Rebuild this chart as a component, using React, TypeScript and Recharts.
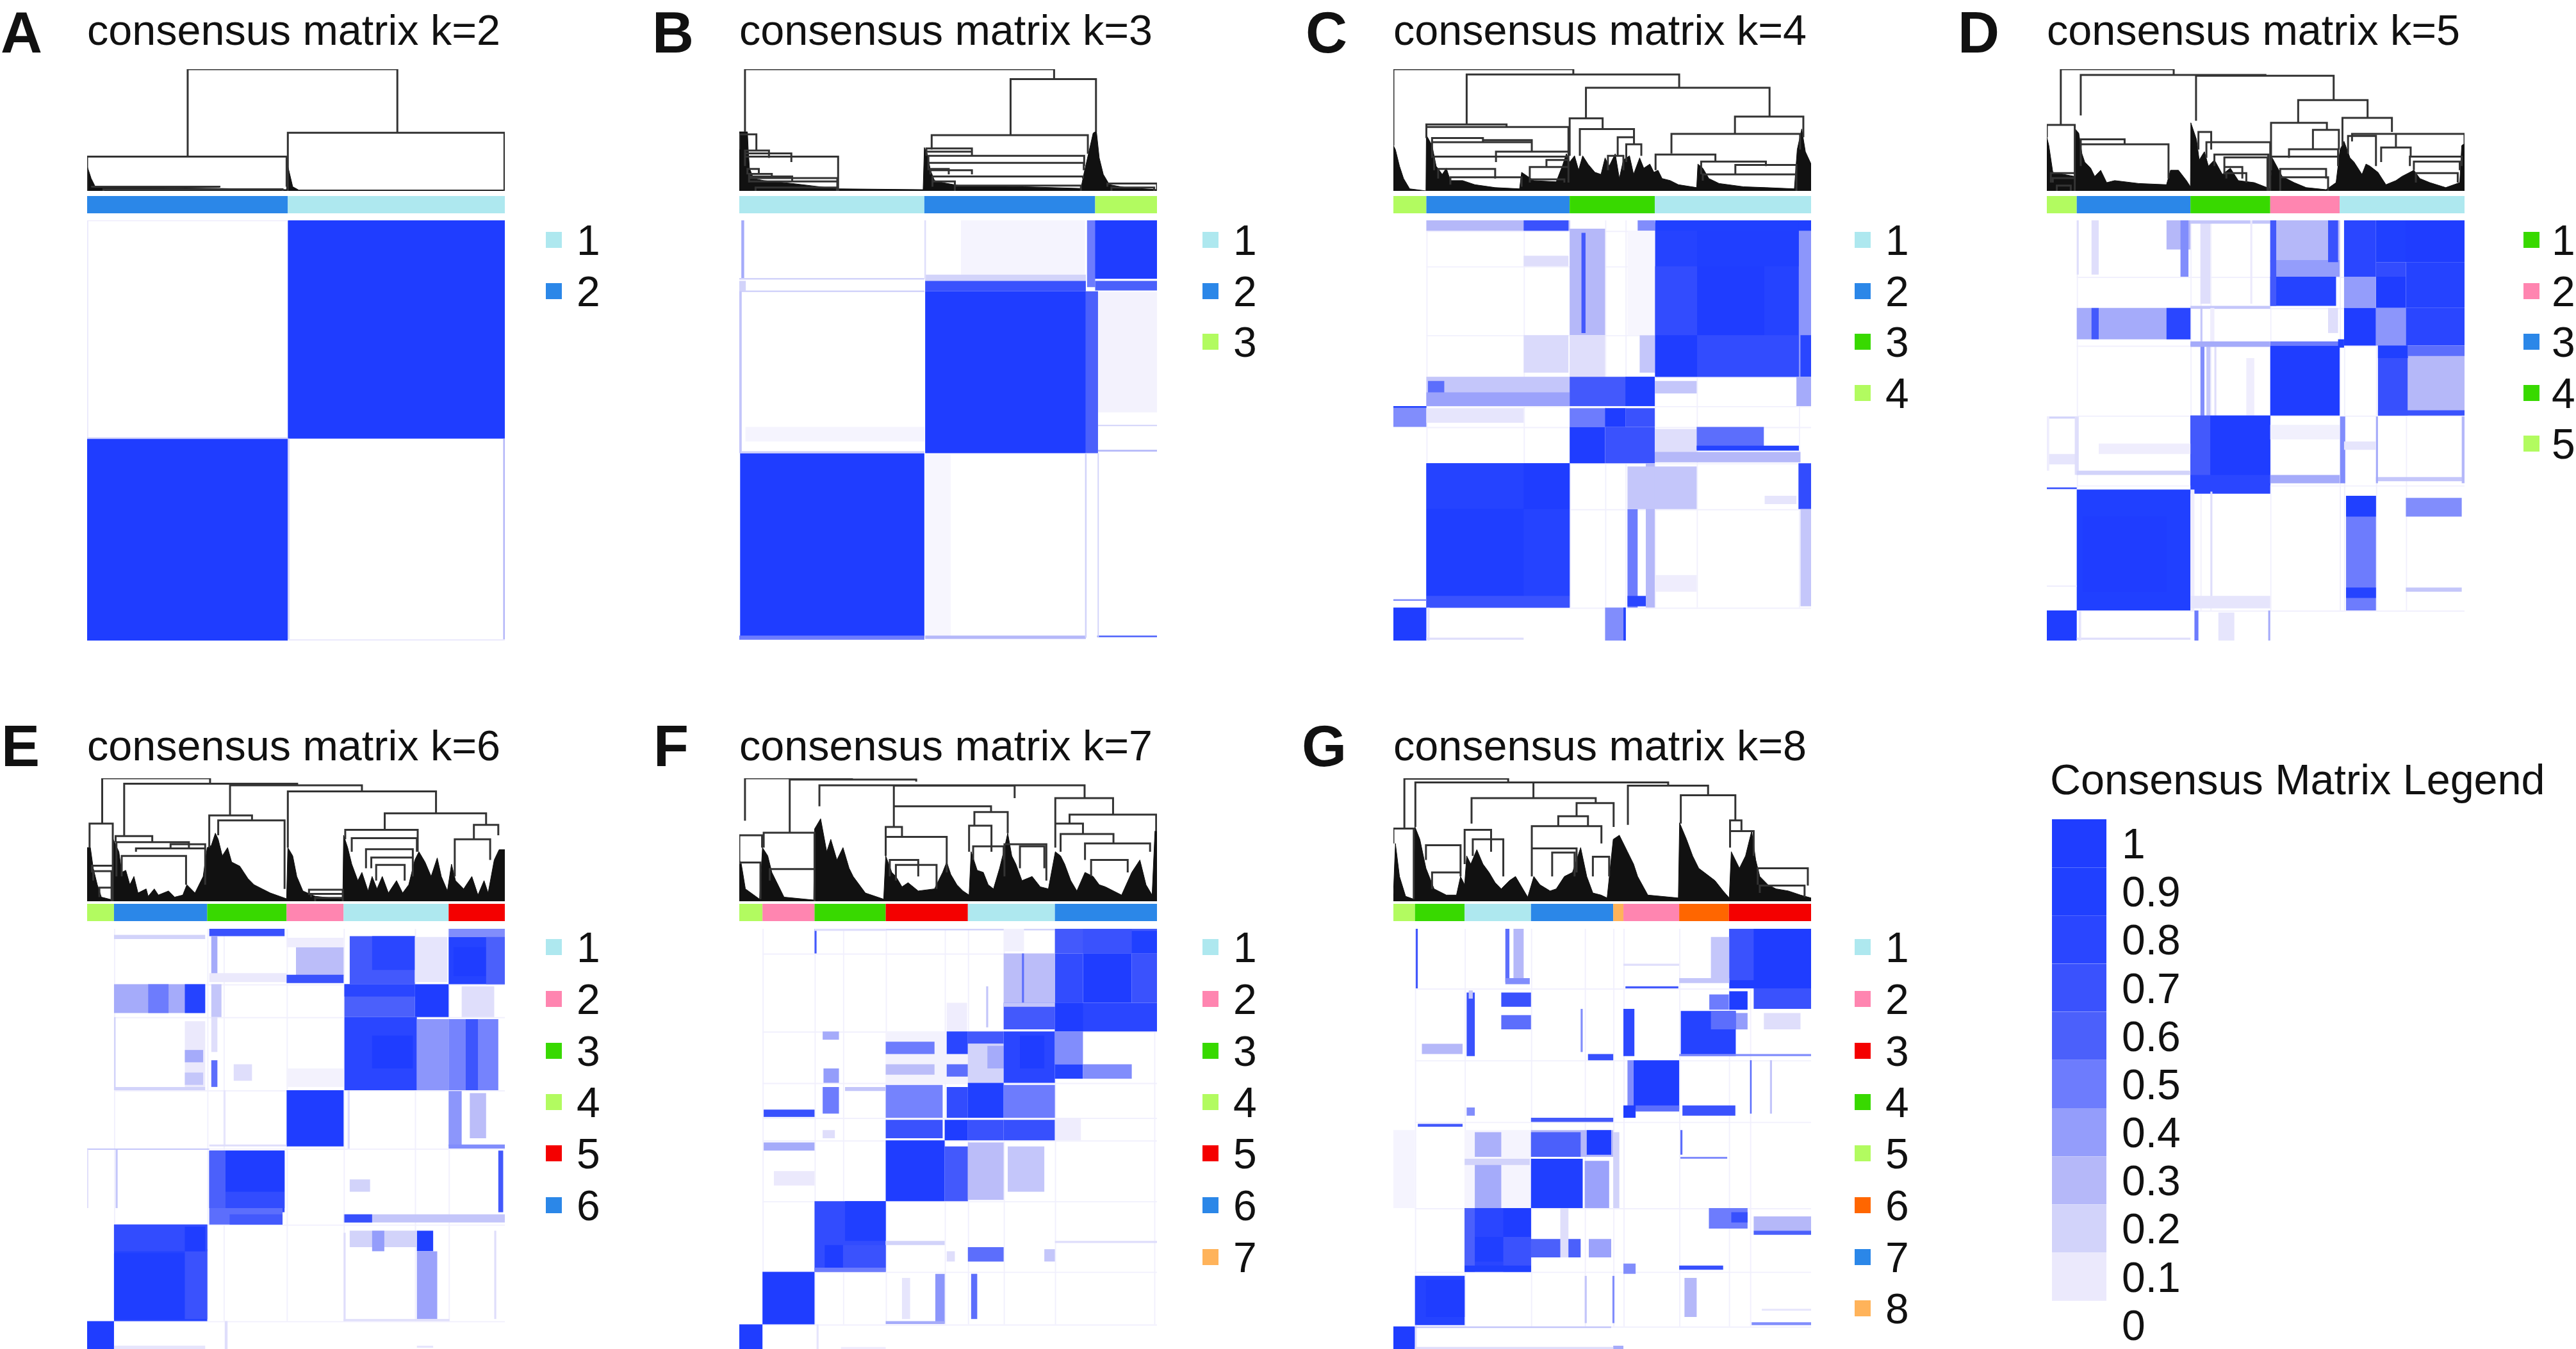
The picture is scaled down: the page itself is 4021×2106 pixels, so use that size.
import { Area, Bar, BarChart, Cell, ComposedChart, Line, ReferenceArea, XAxis, YAxis } from "recharts";

// consensus value -> legend colour (index = value * 10)
const LEVELS = ["#ffffff", "#ebe9fc", "#d2d3fa", "#b5b8f9", "#949dfb", "#6d7cfd", "#4b60fb", "#3a52fd", "#2a46ff", "#2040ff", "#1f3dff"];
const CYAN = "#aee8ef", BLUE = "#2b87e8", GREEN = "#38d900", LIME = "#b2fb60", PINK = "#ff85b0", RED = "#f40000", ORANGE = "#ff6600", PEACH = "#ffb35a";

const legendTicks = ["1", "0.9", "0.8", "0.7", "0.6", "0.5", "0.4", "0.3", "0.2", "0.1", "0"];
const legendLevels = [1, 0.9, 0.8, 0.7, 0.6, 0.5, 0.4, 0.3, 0.2, 0.1, 0];

// faint frame lines at cluster borders: column ranks, row ranks
const colsK4 = [81, 320, 433, 520, 570, 642, 745, 996];
const rowsK4 = [25, 110, 275, 375, 445, 495, 582, 692, 928];
const colsK5 = [75, 360, 385, 410, 560, 734, 745, 825, 900];
const rowsK5 = [135, 210, 300, 468, 635, 935];
const colsK6 = [66, 295, 335, 490, 630, 805, 888];
const rowsK6 = [135, 215, 393, 535, 720, 955];
const colsK7 = [57, 185, 255, 360, 505, 562, 650, 776, 1020];
const rowsK7 = [60, 250, 375, 460, 515, 663, 835, 963];
const colsK8 = [53, 175, 338, 470, 540, 565, 702, 824, 876];
const rowsK8 = [145, 320, 470, 680, 835, 968];

// matrix blocks: [col from, col to, row from, row to, consensus], in sample rank
const blocksK2 = [
  [493, 1026, 0, 523, 1], [0, 493, 523, 1007, 1], [0, 3, 0, 523, 0.1], [0, 493, 0, 2, 0.1], [0, 493, 520, 524, 0.2],
  [493, 497, 523, 1007, 0.2], [1022, 1026, 523, 1007, 0.3], [493, 1026, 1004, 1007, 0.1],
];
const blocksK3 = [
  [545, 850, 0, 130, 0.05], [882, 1027, 172, 460, 0.06], [15, 455, 495, 530, 0.05], [458, 520, 560, 1000, 0.04],
  [870, 1027, 0, 140, 1], [855, 875, 0, 160, 0.5], [457, 852, 130, 145, 0.2], [457, 852, 145, 170, 0.7], [457, 852, 170, 558, 1],
  [852, 882, 170, 558, 0.6], [875, 1027, 145, 168, 0.6], [2, 455, 558, 1000, 1], [0, 455, 995, 1005, 0.5], [457, 852, 995, 1003, 0.3],
  [880, 1027, 995, 999, 0.6], [5, 12, 0, 140, 0.35], [0, 455, 138, 142, 0.2], [0, 455, 168, 172, 0.2], [0, 16, 145, 170, 0.2],
  [0, 6, 170, 558, 0.25], [5, 455, 553, 558, 0.2], [882, 1027, 490, 493, 0.2], [882, 1027, 550, 554, 0.3], [850, 854, 558, 1000, 0.2],
  [881, 884, 558, 1000, 0.2], [455, 459, 0, 140, 0.15],
];
const blocksK4 = [
  [81, 433, 0, 25, 0.3], [320, 430, 0, 25, 0.7], [433, 520, 20, 275, 0.3], [462, 472, 30, 270, 0.65], [320, 430, 85, 110, 0.15],
  [320, 430, 275, 365, 0.17], [433, 520, 275, 375, 0.15], [600, 642, 0, 25, 0.45], [605, 642, 275, 365, 0.25], [575, 642, 25, 275, 0.04],
  [643, 996, 5, 375, 0.85], [746, 911, 110, 275, 1], [643, 746, 275, 375, 1], [746, 996, 0, 110, 0.95], [643, 746, 110, 275, 0.75], [746, 996, 275, 375, 0.75],
  [996, 1026, 0, 375, 0.42], [1000, 1026, 275, 375, 0.8], [996, 1026, 0, 25, 0.9], [643, 996, 0, 25, 0.9],
  [81, 433, 375, 445, 0.25], [85, 125, 385, 440, 0.55], [81, 433, 412, 445, 0.38], [433, 642, 375, 445, 0.65], [570, 642, 375, 445, 0.95], [642, 745, 385, 415, 0.25], [990, 1026, 375, 445, 0.35],
  [0, 81, 445, 495, 0.45], [0, 81, 445, 449, 0.9], [433, 570, 450, 495, 0.5], [520, 570, 450, 495, 1], [570, 642, 450, 495, 0.7], [81, 320, 450, 485, 0.12],
  [433, 520, 495, 582, 1], [520, 642, 495, 582, 0.7], [642, 745, 500, 560, 0.15], [745, 910, 495, 550, 0.55], [745, 996, 540, 552, 0.85], [642, 1000, 555, 580, 0.3],
  [81, 433, 582, 928, 0.9], [320, 433, 582, 692, 1], [81, 320, 582, 692, 0.85], [81, 320, 692, 900, 0.97], [320, 433, 692, 900, 0.85], [81, 433, 900, 928, 0.7],
  [575, 600, 692, 928, 0.5], [620, 642, 582, 928, 0.3], [575, 642, 590, 692, 0.25], [642, 745, 590, 692, 0.25], [995, 1026, 582, 692, 0.75], [1000, 1026, 692, 925, 0.25],
  [912, 990, 660, 680, 0.12], [575, 620, 900, 925, 0.8], [642, 745, 850, 890, 0.08],
  [0, 81, 928, 1007, 1], [520, 570, 928, 1007, 0.45], [565, 571, 928, 1007, 0.85], [83, 89, 928, 1007, 0.12], [81, 320, 1000, 1005, 0.15], [0, 81, 908, 912, 0.45],
];
const blocksK5 = [
  [300, 360, 0, 70, 0.3], [335, 355, 0, 135, 0.45], [112, 130, 0, 130, 0.15], [75, 80, 0, 130, 0.15],
  [385, 410, 0, 200, 0.15], [360, 560, 0, 8, 0.25], [360, 560, 205, 212, 0.25], [510, 515, 0, 200, 0.1],
  [745, 825, 0, 135, 0.8], [825, 1047, 0, 100, 0.9], [900, 1047, 0, 100, 1], [825, 900, 100, 135, 0.75], [825, 900, 135, 210, 1], [900, 1047, 100, 210, 0.85], [745, 825, 135, 210, 0.4],
  [560, 734, 0, 100, 0.3], [560, 734, 95, 135, 0.4], [560, 725, 135, 205, 0.85], [705, 730, 0, 100, 0.7], [560, 575, 0, 205, 0.65],
  [75, 360, 210, 285, 0.35], [300, 360, 210, 285, 0.8], [112, 130, 210, 285, 0.65], [745, 825, 210, 300, 1], [825, 900, 210, 300, 0.42], [900, 1047, 210, 300, 0.8],
  [560, 734, 290, 300, 0.5], [705, 730, 210, 270, 0.15], [360, 560, 290, 300, 0.35], [410, 420, 210, 290, 0.08], [385, 390, 210, 290, 0.25], [730, 745, 285, 305, 0.9],
  [560, 734, 300, 468, 1], [830, 905, 300, 468, 0.72], [905, 1047, 300, 468, 0.3], [830, 905, 300, 330, 0.9], [905, 1047, 300, 325, 0.55], [830, 1047, 455, 468, 0.7],
  [385, 395, 300, 468, 0.45], [400, 410, 300, 468, 0.25], [500, 520, 330, 468, 0.08], [420, 425, 300, 468, 0.15], [360, 560, 295, 303, 0.35],
  [360, 560, 468, 635, 0.95], [360, 410, 468, 635, 0.65], [410, 560, 468, 610, 1], [360, 560, 610, 655, 0.8], [0, 75, 470, 475, 0.2], [0, 75, 560, 585, 0.12], [0, 6, 470, 600, 0.08],
  [70, 80, 470, 610, 0.15], [75, 360, 600, 610, 0.2], [130, 360, 535, 560, 0.08], [560, 734, 490, 525, 0.07], [560, 734, 610, 630, 0.35], [735, 748, 470, 630, 0.45],
  [825, 1047, 615, 625, 0.25], [825, 830, 470, 630, 0.35], [1040, 1047, 470, 630, 0.3], [745, 825, 530, 550, 0.12],
  [75, 360, 645, 935, 0.9], [90, 300, 710, 890, 1], [360, 370, 645, 935, 0.08], [410, 415, 650, 920, 0.15], [750, 825, 660, 935, 0.5], [750, 825, 660, 710, 0.9], [750, 825, 880, 905, 0.85],
  [900, 1040, 665, 710, 0.45], [900, 1040, 880, 890, 0.25], [0, 75, 640, 644, 0.75], [0, 75, 875, 878, 0.08],
  [0, 75, 935, 1007, 1], [75, 360, 1000, 1005, 0.15], [370, 380, 935, 1007, 0.5], [430, 470, 940, 1007, 0.12], [555, 560, 935, 1007, 0.35], [80, 86, 935, 1007, 0.12], [360, 560, 900, 930, 0.12],
];
const blocksK6 = [
  [300, 485, 0, 18, 0.7], [305, 320, 18, 110, 0.35], [66, 290, 15, 25, 0.2], [300, 490, 108, 130, 0.1],
  [513, 630, 45, 115, 0.28], [490, 630, 112, 132, 0.7], [490, 630, 22, 45, 0.08],
  [645, 805, 18, 135, 0.65], [700, 805, 18, 100, 0.8], [805, 885, 20, 130, 0.12], [888, 1026, 0, 20, 0.45], [888, 1026, 20, 135, 0.85], [900, 980, 45, 115, 1], [980, 1026, 20, 135, 0.6],
  [66, 290, 135, 205, 0.35], [240, 290, 135, 205, 0.85], [150, 200, 135, 205, 0.5], [305, 330, 135, 215, 0.25], [632, 805, 135, 215, 0.6], [632, 805, 135, 165, 0.8], [805, 888, 135, 215, 1], [920, 1000, 140, 215, 0.15],
  [632, 810, 215, 393, 0.8], [700, 800, 260, 340, 1], [810, 888, 220, 393, 0.42], [888, 1010, 220, 393, 0.48], [930, 960, 220, 393, 0.68], [240, 290, 225, 385, 0.1], [240, 285, 295, 325, 0.35], [240, 285, 350, 380, 0.25],
  [305, 320, 320, 385, 0.55], [360, 405, 330, 370, 0.15], [305, 320, 215, 300, 0.15], [66, 290, 385, 393, 0.2], [66, 70, 215, 393, 0.2], [490, 630, 340, 385, 0.06],
  [490, 630, 393, 530, 1], [888, 920, 395, 530, 0.42], [940, 980, 400, 510, 0.28], [335, 340, 393, 530, 0.12], [640, 645, 393, 535, 0.15], [888, 1026, 525, 535, 0.45], [300, 490, 525, 530, 0.15],
  [300, 485, 540, 680, 0.9], [300, 340, 540, 680, 0.6], [340, 485, 540, 640, 1], [340, 485, 640, 690, 0.75], [0, 300, 535, 538, 0.25], [70, 75, 535, 680, 0.25], [645, 695, 610, 640, 0.2], [1010, 1022, 540, 690, 0.65],
  [630, 1026, 695, 715, 0.25], [632, 700, 695, 715, 0.72], [300, 480, 680, 720, 0.55], [350, 480, 695, 720, 0.65],
  [66, 295, 720, 955, 0.85], [66, 240, 790, 950, 0.97], [240, 295, 780, 950, 0.7], [66, 295, 720, 785, 0.75], [240, 290, 725, 785, 1], [810, 850, 735, 785, 0.88], [810, 860, 785, 950, 0.38],
  [645, 810, 735, 775, 0.2], [700, 730, 735, 785, 0.4], [630, 635, 740, 955, 0.15], [1000, 1005, 735, 950, 0.15], [630, 890, 950, 955, 0.15],
  [0, 66, 955, 1023, 1], [66, 290, 1015, 1023, 0.12], [338, 345, 955, 1023, 0.15], [810, 850, 1015, 1020, 0.12], [0, 3, 537, 680, 0.15],
];
const blocksK7 = [
  [185, 190, 0, 60, 0.65], [185, 360, 0, 5, 0.15], [360, 776, 0, 4, 0.2], [510, 560, 180, 250, 0.08], [607, 612, 140, 240, 0.25],
  [776, 1027, 0, 60, 0.65], [845, 965, 0, 60, 0.7], [965, 1027, 5, 60, 0.9], [776, 845, 60, 180, 0.75], [845, 965, 60, 180, 1], [965, 1027, 60, 180, 0.7], [776, 1027, 180, 250, 0.8], [776, 845, 180, 250, 1],
  [650, 776, 60, 180, 0.28], [695, 700, 60, 180, 0.55], [650, 776, 180, 245, 0.65], [650, 776, 180, 190, 0.25], [650, 700, 0, 55, 0.07],
  [360, 562, 250, 375, 0.06], [360, 480, 275, 305, 0.5], [510, 562, 250, 305, 0.8], [510, 562, 330, 360, 0.55], [360, 480, 330, 355, 0.28], [562, 650, 250, 280, 0.65], [562, 650, 280, 375, 0.2], [610, 650, 285, 340, 0.35], [650, 776, 250, 375, 0.8], [690, 750, 260, 340, 1],
  [776, 845, 250, 330, 0.45], [776, 845, 330, 365, 0.85], [845, 965, 330, 365, 0.45], [205, 245, 250, 270, 0.35], [207, 245, 340, 375, 0.4],
  [562, 650, 375, 460, 0.9], [650, 776, 380, 460, 0.5], [510, 562, 385, 460, 0.75], [360, 500, 380, 460, 0.48], [205, 245, 385, 450, 0.5], [60, 185, 440, 458, 0.72], [260, 360, 385, 395, 0.25],
  [360, 500, 465, 510, 0.7], [505, 562, 465, 515, 1], [562, 650, 465, 515, 0.7], [650, 776, 465, 515, 0.72], [205, 235, 490, 510, 0.15], [776, 840, 460, 515, 0.08],
  [360, 505, 515, 663, 1], [505, 562, 530, 663, 0.65], [562, 650, 520, 660, 0.28], [660, 750, 530, 640, 0.25], [60, 185, 520, 540, 0.35], [85, 185, 590, 625, 0.1],
  [185, 360, 663, 835, 0.75], [260, 360, 663, 760, 0.95], [210, 255, 770, 825, 1], [255, 360, 770, 825, 0.7], [360, 505, 760, 770, 0.2], [510, 530, 785, 810, 0.15], [562, 650, 775, 810, 0.55], [750, 776, 780, 810, 0.25], [776, 1027, 760, 765, 0.15], [185, 360, 825, 835, 0.5],
  [57, 185, 835, 963, 1], [400, 420, 850, 950, 0.12], [482, 505, 840, 960, 0.42], [570, 585, 840, 950, 0.55], [360, 505, 955, 962, 0.35],
  [0, 57, 963, 1023, 1], [190, 195, 963, 1023, 0.12], [250, 360, 1018, 1023, 0.08],
];
const blocksK8 = [
  [825, 1026, 0, 145, 1], [825, 885, 0, 125, 0.7], [780, 825, 20, 130, 0.25], [702, 825, 120, 132, 0.25], [885, 1026, 145, 195, 0.7], [825, 870, 152, 197, 1], [825, 870, 205, 245, 0.4], [910, 1000, 205, 245, 0.15], [776, 824, 160, 197, 0.5],
  [706, 841, 200, 310, 0.85], [780, 841, 200, 245, 0.55], [265, 338, 155, 190, 0.7], [265, 338, 210, 245, 0.55], [275, 285, 0, 130, 0.55], [295, 320, 0, 130, 0.3], [275, 335, 120, 135, 0.45], [55, 60, 0, 145, 0.65], [70, 170, 280, 305, 0.3], [180, 200, 155, 310, 0.7], [185, 195, 150, 170, 0.25],
  [565, 592, 195, 310, 0.78], [570, 700, 140, 145, 0.65], [565, 702, 85, 90, 0.15], [460, 465, 195, 300, 0.45], [478, 540, 305, 320, 0.72], [702, 1026, 305, 310, 0.45],
  [590, 702, 320, 440, 1], [575, 590, 320, 440, 0.45], [565, 595, 430, 460, 1], [595, 702, 430, 445, 0.55], [710, 840, 430, 455, 0.7], [180, 200, 435, 455, 0.45], [876, 880, 320, 450, 0.55], [925, 930, 320, 450, 0.25],
  [175, 338, 490, 680, 0.05], [338, 540, 490, 555, 0.3], [475, 535, 490, 550, 1], [338, 460, 495, 555, 0.6], [200, 265, 495, 555, 0.33], [338, 465, 560, 680, 0.95], [470, 530, 565, 680, 0.38], [200, 265, 570, 680, 0.35], [175, 335, 560, 575, 0.2], [540, 555, 495, 680, 0.2], [60, 170, 475, 482, 0.65], [0, 53, 490, 680, 0.05], [338, 540, 460, 470, 0.65], [705, 820, 555, 560, 0.45], [705, 710, 490, 550, 0.55],
  [175, 338, 680, 835, 0.8], [270, 338, 680, 760, 1], [200, 270, 750, 810, 0.95], [175, 200, 680, 835, 0.6], [270, 338, 750, 835, 0.7], [338, 460, 755, 800, 0.6], [480, 535, 755, 800, 0.38], [410, 430, 680, 800, 0.15], [175, 338, 820, 835, 0.9],
  [775, 870, 680, 730, 0.5], [830, 870, 690, 715, 0.72], [885, 1026, 700, 735, 0.3], [885, 1026, 735, 745, 0.6], [702, 810, 820, 830, 0.72], [565, 595, 815, 840, 0.45],
  [53, 175, 845, 965, 0.85], [80, 175, 855, 945, 1], [715, 745, 850, 945, 0.3], [905, 1026, 925, 930, 0.12], [880, 1026, 958, 965, 0.45], [538, 543, 845, 960, 0.45], [470, 475, 845, 960, 0.25],
  [0, 53, 968, 1023, 1], [53, 58, 965, 1023, 0.12], [540, 565, 1015, 1023, 0.35], [53, 535, 968, 972, 0.25], [53, 540, 1018, 1023, 0.15],
];

// dendrogram joins: [left rank, right rank, height, left child height, right child height]
const joinsK2 = [[247, 762, 295, 83, 141], [0, 490, 83, 0, 10], [493, 1025, 141, 0, 0], [12, 325, 10, 8, 8], [40, 480, 4, 0, 0]];
const joinsK3 = [
  [14, 774, 295, 143, 271], [667, 877, 271, 135, 143], [473, 857, 135, 100, 90], [0, 42, 137, 100, 100], [14, 73, 98, 80, 80], [14, 128, 91, 70, 70], [14, 243, 83, 60, 0], [20, 48, 53, 40, 40],
  [24, 80, 41, 30, 30], [24, 130, 35, 30, 25], [24, 241, 31, 25, 0], [24, 241, 23, 20, 0], [40, 240, 8, 0, 0], [460, 572, 103, 90, 85], [460, 572, 95, 85, 85], [465, 848, 85, 50, 60], [465, 847, 68, 50, 50],
  [470, 515, 53, 40, 40], [470, 572, 50, 40, 40], [475, 845, 35, 20, 30], [475, 530, 23, 10, 10], [530, 840, 13, 0, 0], [905, 1027, 18, 10, 0], [915, 1020, 8, 0, 0],
];
const joinsK4 = [
  [0, 442, 295, 110, 282], [180, 702, 282, 161, 250], [473, 924, 250, 176, 180], [433, 514, 176, 85, 150], [458, 591, 150, 85, 130], [551, 591, 130, 85, 113], [572, 609, 113, 70, 85], [527, 565, 85, 50, 50],
  [839, 1007, 180, 138, 130], [683, 999, 138, 91, 100], [644, 791, 88, 50, 70], [756, 915, 71, 40, 60], [840, 990, 63, 40, 0], [760, 990, 40, 25, 0],
  [81, 278, 161, 155, 155], [81, 430, 155, 128, 85], [95, 220, 128, 118, 118], [95, 340, 118, 80, 95], [220, 340, 123, 118, 118], [100, 430, 83, 50, 20], [252, 430, 95, 70, 70], [376, 430, 75, 60, 60], [335, 430, 58, 30, 30], [110, 250, 53, 30, 30], [140, 315, 33, 15, 10], [335, 420, 28, 20, 20],
];
const joinsK5 = [
  [35, 318, 295, 160, 281], [85, 548, 281, 183, 279], [374, 719, 279, 170, 220], [630, 804, 220, 165, 177], [562, 702, 165, 70, 148], [667, 732, 148, 103, 100], [607, 730, 101, 80, 80], [562, 730, 83, 50, 60], [585, 700, 53, 30, 30], [585, 705, 33, 0, 0],
  [741, 865, 177, 110, 143], [765, 1047, 138, 120, 115], [875, 1047, 138, 105, 115], [755, 825, 133, 90, 60], [838, 912, 105, 70, 83], [910, 1040, 83, 60, 60], [920, 1035, 71, 50, 50], [925, 1030, 43, 20, 20],
  [85, 195, 125, 113, 113], [85, 305, 113, 60, 30], [0, 70, 160, 130, 0], [10, 70, 43, 20, 0], [15, 70, 31, 20, 0], [25, 60, 13, 0, 0], [380, 412, 143, 100, 100], [400, 560, 118, 80, 0], [420, 555, 88, 60, 0], [445, 553, 81, 40, 0], [445, 490, 58, 40, 30], [450, 500, 43, 30, 20],
];
const joinsK6 = [
  [37, 302, 298, 188, 285], [91, 516, 285, 160, 281], [351, 675, 281, 208, 266], [493, 857, 266, 130, 213], [731, 980, 213, 173, 185], [634, 812, 173, 150, 120], [950, 1010, 185, 150, 160], [903, 990, 150, 60, 100],
  [300, 405, 208, 130, 196], [322, 485, 196, 160, 30], [70, 160, 158, 143, 143], [72, 250, 143, 60, 128], [120, 290, 128, 120, 40], [205, 290, 138, 128, 128], [85, 243, 110, 60, 40], [650, 810, 153, 120, 120], [685, 800, 126, 80, 100], [698, 800, 106, 80, 60], [710, 780, 88, 50, 50],
  [6, 63, 188, 130, 0], [12, 63, 86, 70, 0], [15, 60, 73, 50, 0], [30, 60, 33, 10, 0], [545, 628, 28, 15, 0], [550, 628, 18, 10, 0], [560, 628, 8, 0, 0],
];
const joinsK7 = [
  [14, 277, 298, 195, 293], [124, 435, 295, 168, 290], [197, 849, 281, 230, 250], [380, 677, 280, 230, 250], [380, 619, 230, 180, 216], [578, 660, 216, 183, 165], [777, 919, 250, 188, 210], [812, 1025, 210, 188, 170], [777, 845, 188, 130, 163], [790, 920, 163, 120, 140],
  [850, 1010, 140, 100, 120], [865, 955, 100, 60, 70], [360, 510, 156, 110, 70], [360, 400, 180, 156, 156], [370, 440, 100, 60, 60], [385, 485, 88, 50, 30], [0, 56, 160, 90, 130], [3, 52, 94, 90, 5], [60, 185, 166, 130, 78], [75, 185, 78, 50, 0], [652, 755, 138, 60, 50], [690, 750, 133, 80, 80], [565, 620, 183, 120, 120], [575, 650, 133, 100, 100],
];
const joinsK8 = [
  [27, 282, 297, 176, 288], [54, 675, 288, 180, 280], [344, 344, 288, 288, 250], [192, 497, 250, 188, 238], [450, 541, 238, 206, 180], [340, 511, 182, 120, 140], [405, 478, 206, 182, 182], [576, 773, 280, 185, 257], [706, 840, 257, 188, 196], [827, 855, 196, 170, 170], [827, 885, 170, 130, 110], [895, 1018, 80, 40, 38], [900, 1010, 38, 20, 10],
  [0, 50, 176, 140, 5], [80, 165, 136, 100, 70], [95, 165, 70, 30, 60], [175, 240, 173, 90, 120], [195, 270, 150, 110, 60], [340, 450, 128, 60, 70], [390, 445, 118, 60, 60], [490, 530, 108, 60, 60],
];

// dendrogram outline where the leaves merge into a solid mass: [rank, height]
const massK2 = [[0, 0], [0, 60], [10, 30], [20, 10], [40, 8], [160, 8], [320, 6], [490, 3], [493, 60], [505, 10], [520, 2], [1025, 2], [1025, 0]];
const massK3 = [[0, 0], [0, 143], [20, 143], [22, 100], [25, 55], [35, 30], [60, 25], [130, 18], [240, 5], [452, 3], [455, 105], [462, 90], [470, 50], [480, 25], [500, 20], [540, 13], [700, 10], [840, 6], [847, 40], [870, 140], [878, 145], [885, 80], [895, 40], [910, 15], [950, 8], [1027, 3], [1027, 0]];
const massK4 = [[0, 0], [0, 110], [5, 100], [15, 60], [25, 30], [40, 5], [80, 0], [81, 135], [95, 110], [105, 60], [120, 40], [130, 55], [140, 25], [170, 25], [200, 15], [250, 8], [310, 5], [315, 45], [330, 35], [345, 25], [400, 22], [415, 60], [425, 90], [433, 70], [445, 85], [455, 50], [465, 85], [478, 65], [495, 45], [510, 40], [520, 80], [530, 60], [545, 90], [555, 30], [565, 75], [580, 85], [590, 40], [605, 80], [615, 55], [630, 65], [640, 45], [650, 50], [660, 30], [680, 25], [700, 15], [745, 8], [748, 65], [760, 55], [775, 30], [800, 18], [860, 10], [915, 8], [985, 5], [992, 100], [1003, 150], [1012, 95], [1026, 65], [1026, 0]];
const massK5 = [[0, 0], [0, 130], [5, 110], [15, 45], [70, 35], [71, 150], [80, 140], [88, 90], [95, 70], [110, 55], [120, 35], [135, 50], [150, 20], [170, 25], [230, 18], [300, 15], [310, 50], [330, 50], [350, 25], [360, 10], [361, 165], [375, 125], [382, 75], [395, 95], [405, 60], [420, 75], [440, 40], [460, 55], [480, 25], [520, 20], [560, 5], [565, 80], [590, 35], [620, 20], [650, 8], [700, 3], [725, 20], [735, 100], [745, 120], [760, 80], [770, 70], [790, 40], [800, 65], [810, 60], [830, 45], [850, 15], [875, 25], [890, 35], [920, 50], [935, 30], [960, 20], [1000, 8], [1035, 20], [1040, 110], [1047, 115], [1047, 0]];
const massK6 = [[0, 0], [0, 130], [8, 130], [15, 80], [25, 40], [35, 10], [63, 3], [64, 150], [78, 120], [85, 70], [95, 75], [105, 40], [115, 60], [125, 20], [145, 30], [150, 12], [165, 30], [175, 15], [200, 25], [215, 10], [235, 15], [245, 40], [265, 20], [285, 60], [295, 130], [305, 135], [315, 165], [322, 150], [332, 110], [345, 130], [355, 95], [375, 85], [385, 70], [395, 55], [410, 40], [430, 30], [450, 20], [490, 6], [493, 130], [505, 110], [515, 60], [530, 25], [560, 12], [628, 5], [630, 160], [640, 130], [650, 90], [665, 50], [675, 70], [690, 25], [700, 60], [712, 30], [725, 60], [740, 20], [760, 50], [775, 20], [790, 40], [805, 100], [815, 120], [830, 95], [845, 60], [860, 105], [870, 60], [885, 25], [895, 90], [905, 50], [925, 30], [945, 60], [960, 15], [975, 50], [985, 20], [1000, 100], [1012, 125], [1026, 125], [1026, 0]];
const massK7 = [[0, 0], [0, 100], [5, 90], [15, 30], [50, 5], [57, 130], [70, 110], [80, 70], [90, 50], [110, 10], [183, 3], [185, 175], [200, 200], [215, 120], [225, 150], [240, 100], [255, 130], [270, 80], [280, 60], [310, 20], [355, 5], [360, 110], [375, 70], [385, 60], [400, 35], [415, 45], [440, 25], [480, 30], [500, 70], [510, 95], [520, 65], [535, 40], [550, 25], [565, 15], [570, 120], [585, 75], [600, 70], [612, 40], [625, 30], [640, 80], [650, 120], [660, 165], [670, 110], [680, 90], [695, 50], [720, 60], [740, 35], [760, 30], [777, 120], [790, 110], [800, 90], [815, 50], [830, 25], [850, 70], [870, 60], [885, 40], [900, 35], [920, 25], [940, 15], [965, 70], [985, 100], [1000, 40], [1015, 15], [1022, 170], [1027, 170], [1027, 0]];
const massK8 = [[0, 0], [0, 15], [5, 140], [15, 60], [30, 12], [50, 5], [53, 180], [65, 150], [80, 80], [100, 30], [130, 15], [155, 15], [165, 60], [175, 40], [180, 110], [190, 90], [205, 125], [220, 90], [235, 70], [250, 45], [265, 30], [285, 50], [300, 60], [330, 10], [345, 60], [360, 40], [385, 25], [400, 30], [420, 60], [440, 70], [460, 130], [475, 60], [490, 20], [510, 15], [525, 8], [540, 150], [555, 160], [575, 120], [590, 90], [600, 60], [625, 15], [700, 8], [703, 190], [720, 150], [735, 110], [750, 80], [770, 65], [790, 50], [810, 25], [825, 8], [830, 120], [850, 80], [865, 110], [880, 170], [890, 100], [900, 60], [920, 40], [940, 30], [970, 25], [1000, 15], [1026, 8], [1026, 0]];

// cluster bar under the dendrogram: sample counts and colours
const stripK2 = [[493, BLUE], [533, CYAN]];
const stripK3 = [[455, CYAN], [420, BLUE], [152, LIME]];
const stripK4 = [[81, LIME], [352, BLUE], [209, GREEN], [384, CYAN]];
const stripK5 = [[75, LIME], [285, BLUE], [200, GREEN], [174, PINK], [313, CYAN]];
const stripK6 = [[66, LIME], [229, BLUE], [195, GREEN], [140, PINK], [258, CYAN], [138, RED]];
const stripK7 = [[57, LIME], [128, PINK], [175, GREEN], [202, RED], [214, CYAN], [251, BLUE]];
const stripK8 = [[53, LIME], [122, GREEN], [163, CYAN], [202, BLUE], [25, PEACH], [137, PINK], [122, ORANGE], [202, RED]];

const legendK2 = [CYAN, BLUE];
const legendK3 = [CYAN, BLUE, LIME];
const legendK4 = [CYAN, BLUE, GREEN, LIME];
const legendK5 = [GREEN, PINK, BLUE, GREEN, LIME];
const legendK6 = [CYAN, PINK, GREEN, LIME, RED, BLUE];
const legendK7 = [CYAN, PINK, GREEN, LIME, RED, BLUE, PEACH];
const legendK8 = [CYAN, PINK, RED, GREEN, LIME, ORANGE, BLUE, PEACH];

const FONT = "'Liberation Sans', Arial, sans-serif";
const PANEL_W = 652;
const rows = [
  { titleTop: 14, letterTop: 6, dendTop: 108, dendH: 190, stripTop: 306, stripH: 27, matTop: 344, matH: 656, legendY: [374, 454, 533, 613, 692] },
  { titleTop: 1131, letterTop: 1120, dendTop: 1215, dendH: 192, stripTop: 1411, stripH: 27, matTop: 1450, matH: 656, legendY: [1478, 1559, 1640, 1720, 1800, 1881, 1962, 2042] },
];
const panels = [
  { letter: "A", k: 2, row: 0, left: 136, letterLeft: 1, legendLeft: 852, digitGap: 48, w: 1026, h: 1007, dh: 295, blocks: blocksK2, joins: joinsK2, mass: massK2, strip: stripK2, legend: legendK2, cols: [], rws: [] },
  { letter: "B", k: 3, row: 0, left: 1154, letterLeft: 1018, legendLeft: 1877, digitGap: 48, w: 1027, h: 1007, dh: 295, blocks: blocksK3, joins: joinsK3, mass: massK3, strip: stripK3, legend: legendK3, cols: [], rws: [] },
  { letter: "C", k: 4, row: 0, left: 2175, letterLeft: 2038, legendLeft: 2895, digitGap: 48, w: 1026, h: 1007, dh: 295, blocks: blocksK4, joins: joinsK4, mass: massK4, strip: stripK4, legend: legendK4, cols: colsK4, rws: rowsK4 },
  { letter: "D", k: 5, row: 0, left: 3195, letterLeft: 3056, legendLeft: 3939, digitGap: 44, w: 1047, h: 1007, dh: 295, blocks: blocksK5, joins: joinsK5, mass: massK5, strip: stripK5, legend: legendK5, cols: colsK5, rws: rowsK5 },
  { letter: "E", k: 6, row: 1, left: 136, letterLeft: 2, legendLeft: 852, digitGap: 48, w: 1026, h: 1023, dh: 298, blocks: blocksK6, joins: joinsK6, mass: massK6, strip: stripK6, legend: legendK6, cols: colsK6, rws: rowsK6 },
  { letter: "F", k: 7, row: 1, left: 1154, letterLeft: 1020, legendLeft: 1877, digitGap: 48, w: 1027, h: 1023, dh: 298, blocks: blocksK7, joins: joinsK7, mass: massK7, strip: stripK7, legend: legendK7, cols: colsK7, rws: rowsK7 },
  { letter: "G", k: 8, row: 1, left: 2175, letterLeft: 2032, legendLeft: 2895, digitGap: 48, w: 1026, h: 1023, dh: 298, blocks: blocksK8, joins: joinsK8, mass: massK8, strip: stripK8, legend: legendK8, cols: colsK8, rws: rowsK8 },
];

// blend between the two nearest legend steps
function levelColor(v: number) {
  const t = Math.min(10, Math.max(0, v * 10));
  const i = Math.min(9, Math.floor(t));
  const hex = (s: string, a: number) => parseInt(s.slice(a, a + 2), 16);
  const mix = (a: number) => Math.round(hex(LEVELS[i], a) + (hex(LEVELS[i + 1], a) - hex(LEVELS[i], a)) * (t - i));
  return `rgb(${mix(1)},${mix(3)},${mix(5)})`;
}

function joinPoints(joins: number[][]) {
  const pts: { x: number; y: number | null }[] = [];
  joins.forEach(([l, r, h, hl, hr]) => {
    pts.push({ x: l, y: hl }, { x: l, y: h }, { x: r, y: h }, { x: r, y: hr }, { x: r, y: null });
  });
  return pts;
}

function Text({ left, top, size, bold, children }: any) {
  return (
    <div style={{ position: "absolute", left, top, fontSize: size, lineHeight: `${size}px`, fontFamily: FONT, fontWeight: bold ? 700 : 400, color: "#111", whiteSpace: "nowrap" }}>
      {children}
    </div>
  );
}

function Box({ left, top, width, height, children }: any) {
  return <div style={{ position: "absolute", left, top, width, height }}>{children}</div>;
}

function Dendrogram({ p, width, height }: any) {
  const mass = p.mass.map(([x, h]: number[]) => ({ x, h }));
  return (
    <ComposedChart width={width} height={height} margin={{ top: 0, right: 0, bottom: 0, left: 0 }}>
      <XAxis hide type="number" dataKey="x" domain={[0, p.w]} allowDataOverflow />
      <YAxis hide type="number" domain={[0, p.dh]} allowDataOverflow />
      <Area data={mass} dataKey="h" type="linear" stroke="#111" strokeWidth={1} fill="#111" fillOpacity={1} dot={false} activeDot={false} isAnimationActive={false} />
      <Line data={joinPoints(p.joins)} dataKey="y" type="linear" stroke="#333" strokeWidth={3} dot={false} activeDot={false} isAnimationActive={false} />
    </ComposedChart>
  );
}

function Strip({ p, width, height }: any) {
  const row: any = { name: "clusters" };
  p.strip.forEach(([n]: any, i: number) => (row[`s${i}`] = n));
  return (
    <BarChart layout="vertical" width={width} height={height} data={[row]} margin={{ top: 0, right: 0, bottom: 0, left: 0 }} barCategoryGap={0}>
      <XAxis hide type="number" domain={[0, p.w]} />
      <YAxis hide type="category" dataKey="name" />
      {p.strip.map(([, c]: any, i: number) => (
        <Bar key={i} dataKey={`s${i}`} stackId="a" fill={c} isAnimationActive={false} />
      ))}
    </BarChart>
  );
}

function Matrix({ p, width, height }: any) {
  const lastRow = p.rws[p.rws.length - 1];
  const first = p.cols[0];
  const frames = [
    ...p.cols.map((c: number) => [c, c + 3, 0, lastRow, 0.07]),
    ...p.rws.map((r: number) => [first, p.w, r, r + 3, 0.07]),
  ];
  return (
    <ComposedChart width={width} height={height} data={[{ x: 0, y: 0 }]} margin={{ top: 0, right: 0, bottom: 0, left: 0 }}>
      <XAxis hide type="number" dataKey="x" domain={[0, p.w]} allowDataOverflow />
      <YAxis hide type="number" reversed domain={[0, p.h]} allowDataOverflow />
      {[...frames, ...p.blocks].map(([x0, x1, y0, y1, v]: number[], i: number) => (
        <ReferenceArea key={i} x1={x0} x2={x1} y1={y0} y2={y1} fill={levelColor(v)} fillOpacity={1} stroke="none" />
      ))}
    </ComposedChart>
  );
}

function Panel({ p }: any) {
  const r = rows[p.row];
  return (
    <>
      <Text left={p.letterLeft} top={r.letterTop} size={90} bold>{p.letter}</Text>
      <Text left={p.left} top={r.titleTop} size={66.5}>{`consensus matrix k=${p.k}`}</Text>
      <Box left={p.left} top={r.dendTop} width={PANEL_W} height={r.dendH}><Dendrogram p={p} width={PANEL_W} height={r.dendH} /></Box>
      <Box left={p.left} top={r.stripTop} width={PANEL_W} height={r.stripH}><Strip p={p} width={PANEL_W} height={r.stripH} /></Box>
      <Box left={p.left} top={r.matTop} width={PANEL_W} height={r.matH}><Matrix p={p} width={PANEL_W} height={r.matH} /></Box>
      {p.legend.map((c: string, i: number) => (
        <div key={i}>
          <div style={{ position: "absolute", left: p.legendLeft, top: r.legendY[i] - 12, width: 25, height: 25, background: c }} />
          <Text left={p.legendLeft + p.digitGap} top={r.legendY[i] - 32} size={66}>{i + 1}</Text>
        </div>
      ))}
    </>
  );
}

function ColorKey() {
  const data = legendTicks.map((t, i) => ({ t, v: legendLevels[i] > 0 ? 1 : 0 }));
  return (
    <Box left={3203} top={1279} width={240} height={827}>
      <BarChart layout="vertical" width={240} height={827} data={data} margin={{ top: 0, right: 0, bottom: 0, left: 0 }} barCategoryGap={0}>
        <XAxis hide type="number" domain={[0, 1]} />
        <YAxis type="category" dataKey="t" orientation="right" width={155} axisLine={false} tickLine={false} tickSize={0} tickMargin={24} interval={0} tick={{ fontSize: 66, fill: "#111", fontFamily: FONT }} />
        <Bar dataKey="v" isAnimationActive={false}>
          {legendLevels.map((v, i) => (
            <Cell key={i} fill={levelColor(v)} />
          ))}
        </Bar>
      </BarChart>
    </Box>
  );
}

export default function App() {
  return (
    <div style={{ position: "absolute", left: 0, top: 0, width: 4021, height: 2106, overflow: "hidden", background: "#fff" }}>
      {panels.map((p) => (
        <Panel key={p.letter} p={p} />
      ))}
      <Text left={3200} top={1184} size={66.5}>Consensus Matrix Legend</Text>
      <ColorKey />
    </div>
  );
}
